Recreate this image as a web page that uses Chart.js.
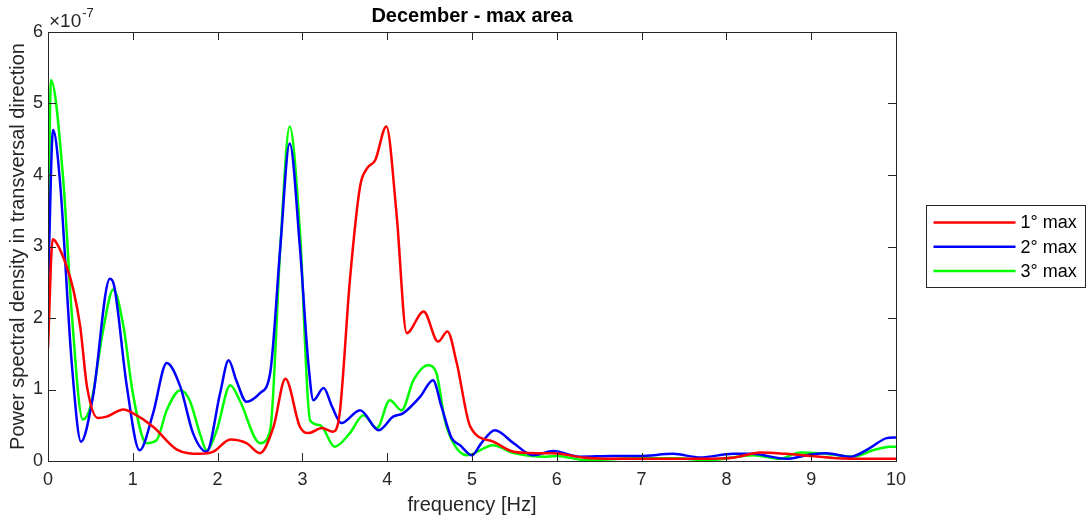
<!DOCTYPE html>
<html>
<head>
<meta charset="utf-8">
<title>December - max area</title>
<script src="https://cdn.jsdelivr.net/npm/chart.js@4.4.1/dist/chart.umd.min.js"></script>
<style>
  html, body { margin: 0; padding: 0; background: #fff; }
  #wrap { width: 1086px; height: 521px; }
</style>
</head>
<body>
<div id="wrap"><canvas id="canvas" width="1086" height="521"></canvas></div>
<script>
// values, in units of 1e-7
const xTicks = [0, 1, 2, 3, 4, 5, 6, 7, 8, 9, 10];
const yTicks = [0, 1, 2, 3, 4, 5, 6];
const exponent = -7;

const freq1 = [0, 0.055, 0.10, 0.22, 0.30, 0.38, 0.46, 0.59, 0.69, 0.89, 1.0, 1.24, 1.52, 1.79, 1.95, 2.15, 2.34, 2.5, 2.66, 2.80, 2.97, 3.07, 3.23, 3.36, 3.44, 3.56, 3.68, 3.76, 3.86, 3.99, 4.11, 4.23, 4.43, 4.60, 4.71, 4.82, 4.98, 5.25, 5.49, 5.75, 5.96, 6.3, 6.7, 7.2, 7.7, 8.1, 8.4, 8.7, 9.0, 9.3, 9.6, 10];
const psd1 = [1.58, 3.10, 3.05, 2.72, 2.39, 1.88, 1.04, 0.60, 0.62, 0.72, 0.67, 0.48, 0.16, 0.10, 0.13, 0.30, 0.25, 0.11, 0.48, 1.15, 0.48, 0.39, 0.46, 0.41, 0.67, 2.53, 3.84, 4.09, 4.21, 4.68, 3.46, 1.79, 2.09, 1.67, 1.81, 1.37, 0.48, 0.27, 0.13, 0.11, 0.11, 0.05, 0.03, 0.03, 0.03, 0.05, 0.12, 0.10, 0.07, 0.04, 0.03, 0.03];

const freq2 = [0, 0.06, 0.14, 0.28, 0.39, 0.53, 0.73, 0.78, 0.93, 1.08, 1.24, 1.40, 1.56, 1.71, 1.87, 2.03, 2.13, 2.22, 2.34, 2.50, 2.62, 2.74, 2.85, 2.97, 3.07, 3.13, 3.25, 3.35, 3.46, 3.68, 3.90, 4.07, 4.19, 4.39, 4.54, 4.64, 4.76, 4.86, 5.0, 5.11, 5.27, 5.49, 5.72, 5.96, 6.27, 6.66, 6.98, 7.37, 7.69, 8.08, 8.3, 8.71, 8.99, 9.18, 9.46, 9.69, 9.89, 10];
const psd2 = [2.39, 4.63, 3.93, 1.37, 0.27, 0.90, 2.55, 2.45, 1.04, 0.15, 0.67, 1.37, 1.04, 0.39, 0.13, 0.95, 1.41, 1.13, 0.83, 0.95, 1.23, 3.0, 4.44, 3.0, 1.37, 0.85, 1.02, 0.76, 0.53, 0.71, 0.43, 0.62, 0.67, 0.90, 1.13, 0.76, 0.32, 0.22, 0.08, 0.25, 0.43, 0.25, 0.08, 0.14, 0.06, 0.07, 0.07, 0.10, 0.05, 0.10, 0.10, 0.03, 0.09, 0.11, 0.06, 0.18, 0.32, 0.33];

const freq3 = [0, 0.035, 0.18, 0.28, 0.41, 0.5, 0.65, 0.77, 0.89, 1.0, 1.16, 1.28, 1.40, 1.56, 1.67, 1.79, 1.87, 1.99, 2.15, 2.26, 2.50, 2.62, 2.74, 2.85, 2.97, 3.09, 3.21, 3.38, 3.56, 3.72, 3.88, 4.03, 4.17, 4.31, 4.48, 4.58, 4.68, 4.78, 4.94, 5.25, 5.49, 5.88, 6.0, 6.35, 6.96, 7.4, 7.77, 8.32, 8.63, 8.87, 9.1, 9.5, 9.73, 9.93, 10];
const psd3 = [2.72, 5.33, 3.93, 2.07, 0.58, 0.76, 1.83, 2.40, 1.88, 0.95, 0.25, 0.29, 0.71, 0.99, 0.85, 0.39, 0.15, 0.43, 1.06, 0.85, 0.25, 0.43, 3.0, 4.68, 3.23, 0.57, 0.50, 0.20, 0.39, 0.64, 0.46, 0.85, 0.71, 1.13, 1.34, 1.23, 0.57, 0.25, 0.08, 0.22, 0.11, 0.06, 0.07, 0.01, 0.04, 0.04, 0.01, 0.08, 0.03, 0.12, 0.11, 0.06, 0.15, 0.20, 0.20];

const seriesNames = ["1° max", "2° max", "3° max"];
const seriesColors = ["#ff0000", "#0000ff", "#00ff00"];

const FONT = "'Liberation Sans', Arial, Helvetica, sans-serif";
const AXIS = "#262626";

function points(xs, ys) {
  return xs.map((x, i) => ({ x: x, y: ys[i] }));
}

// MATLAB style box with inward ticks, exponent label and boxed legend
const matlabFrame = {
  id: "matlabFrame",
  afterDraw(chart) {
    const ctx = chart.ctx;
    const a = chart.chartArea;
    const xs = chart.scales.x, ys = chart.scales.y;
    const tl = 8;
    ctx.save();
    ctx.strokeStyle = AXIS;
    ctx.lineWidth = 1;
    ctx.strokeRect(Math.round(a.left) + 0.5, Math.round(a.top) + 0.5,
      Math.round(a.right - a.left), Math.round(a.bottom - a.top));
    ctx.beginPath();
    xTicks.forEach(v => {
      const px = Math.round(xs.getPixelForValue(v)) + 0.5;
      ctx.moveTo(px, a.bottom); ctx.lineTo(px, a.bottom - tl);
      ctx.moveTo(px, a.top); ctx.lineTo(px, a.top + tl);
    });
    yTicks.forEach(v => {
      const py = Math.round(ys.getPixelForValue(v)) + 0.5;
      ctx.moveTo(a.left, py); ctx.lineTo(a.left + tl, py);
      ctx.moveTo(a.right, py); ctx.lineTo(a.right - tl, py);
    });
    ctx.stroke();

    // x10^-7
    ctx.fillStyle = AXIS;
    ctx.textBaseline = "alphabetic";
    ctx.textAlign = "left";
    ctx.font = "19px " + FONT;
    ctx.fillText("×10", a.left + 1, a.top - 5);
    const w = ctx.measureText("×10").width;
    ctx.font = "13px " + FONT;
    ctx.fillText(String(exponent), a.left + 2 + w, a.top - 15);

    // legend
    const bx = 926.5, by = 205.5, bw = 159, bh = 82;
    ctx.fillStyle = "#fff";
    ctx.fillRect(bx, by, bw, bh);
    ctx.strokeStyle = AXIS;
    ctx.strokeRect(bx, by, bw, bh);
    ctx.font = "18px " + FONT;
    ctx.textBaseline = "middle";
    chart.data.datasets.forEach((ds, i) => {
      const ly = by + 17 + i * 24.3;
      ctx.strokeStyle = ds.borderColor;
      ctx.lineWidth = 2.5;
      ctx.beginPath();
      ctx.moveTo(bx + 7, ly); ctx.lineTo(bx + 89, ly);
      ctx.stroke();
      ctx.fillStyle = "#000";
      ctx.fillText(ds.label, bx + 94, ly + 1);
    });
    ctx.restore();
  }
};

new Chart(document.getElementById("canvas"), {
  type: "line",
  data: {
    datasets: [
      { label: seriesNames[0], data: points(freq1, psd1), borderColor: seriesColors[0] },
      { label: seriesNames[1], data: points(freq2, psd2), borderColor: seriesColors[1] },
      { label: seriesNames[2], data: points(freq3, psd3), borderColor: seriesColors[2] }
    ]
  },
  options: {
    responsive: false,
    animation: false,
    devicePixelRatio: 1,
    layout: { padding: { left: 0, right: 190, top: 0, bottom: 0 } },
    elements: {
      point: { radius: 0 },
      line: { borderWidth: 2.5, cubicInterpolationMode: "monotone", fill: false }
    },
    plugins: {
      legend: { display: false },
      tooltip: { enabled: false },
      title: {
        display: true,
        fullSize: false,
        text: "December - max area",
        color: "#000",
        font: { family: FONT, size: 20, weight: "bold", lineHeight: 1.2 },
        padding: { top: 4, bottom: 4 }
      }
    },
    scales: {
      x: {
        type: "linear",
        min: 0, max: 10,
        afterFit: s => { s.height = 60; },
        afterBuildTicks: s => { s.ticks = xTicks.map(v => ({ value: v })); },
        grid: { display: false, drawTicks: false },
        border: { display: false },
        ticks: { color: AXIS, padding: 8, maxRotation: 0, font: { family: FONT, size: 18 } },
        title: {
          display: true, text: "frequency [Hz]", color: AXIS,
          font: { family: FONT, size: 20 }, padding: { top: 0, bottom: 4 }
        }
      },
      y: {
        min: 0, max: 6,
        afterFit: s => { s.width = 48; },
        afterBuildTicks: s => { s.ticks = yTicks.map(v => ({ value: v })); },
        grid: { display: false, drawTicks: false },
        border: { display: false },
        ticks: { color: AXIS, padding: 5, font: { family: FONT, size: 18 } },
        title: {
          display: true, text: "Power spectral density in transversal direction", color: AXIS,
          font: { family: FONT, size: 20 }, padding: { top: 6, bottom: 0 }
        }
      }
    }
  },
  plugins: [matlabFrame]
});
</script>
</body>
</html>
